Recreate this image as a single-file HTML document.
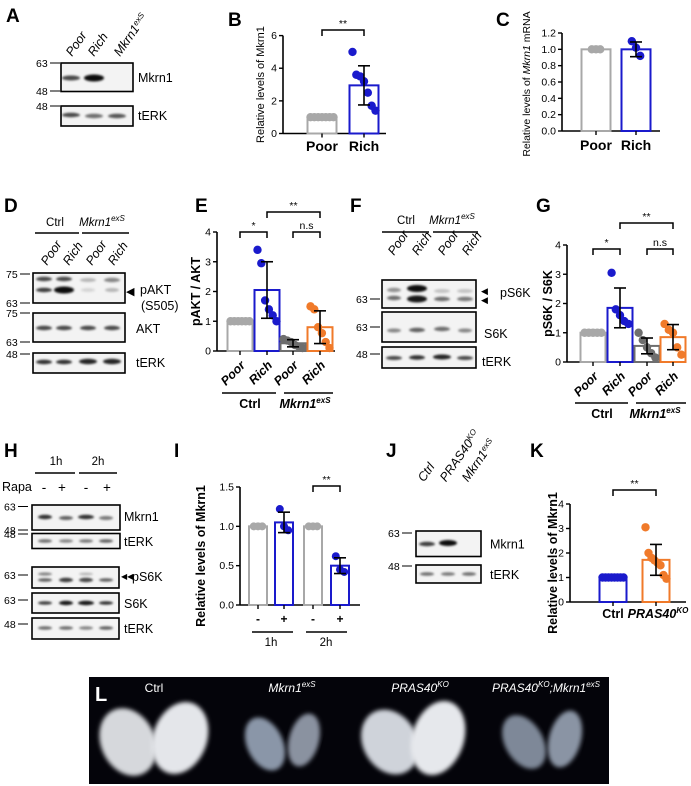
<!DOCTYPE html>
<html><head><meta charset="utf-8"><style>
body{margin:0;background:#fff}
svg{display:block;font-family:"Liberation Sans",sans-serif}
</style></head><body>
<svg id="fig" width="691" height="786" viewBox="0 0 691 786">
<defs><filter id="blur" x="-50%" y="-50%" width="200%" height="200%"><feGaussianBlur stdDeviation="1.1"/></filter>
<filter id="blur2"><feGaussianBlur stdDeviation="2"/></filter></defs>
<g id="root"></g>
</svg>
<script>
// ---------- chart data ----------
const bCats=["Poor","Rich"];
const bMeans=[1.0,2.95];
const bSD=[0,1.2];
const bPts=[[1,1,1,1,1,1,1],[5.0,3.6,3.5,3.2,2.5,1.7,1.4]];
const bTicks=[0,2,4,6];

const cCats=["Poor","Rich"];
const cMeans=[1.0,1.0];
const cSD=[0,0.09];
const cPts=[[1,1,1],[1.1,1.02,0.92]];
const cTicks=[0,0.2,0.4,0.6,0.8,1.0,1.2];

const eCats=["Poor","Rich","Poor","Rich"];
const eMeans=[1,2.05,0.26,0.8];
const eSD=[0,0.95,0.12,0.55];
const ePts=[[1,1,1,1,1,1],[3.4,2.95,1.7,1.4,1.2,1.0],[0.4,0.35,0.3,0.2,0.15,0.1],[1.5,1.4,0.8,0.6,0.3,0.1]];
const eTicks=[0,1,2,3,4];

const gCats=["Poor","Rich","Poor","Rich"];
const gMeans=[1,1.85,0.55,0.85];
const gSD=[0,0.68,0.27,0.43];
const gPts=[[1,1,1,1,1],[3.05,1.8,1.6,1.4,1.3],[1.0,0.75,0.5,0.3,0.15],[1.3,1.1,1.0,0.5,0.25]];
const gTicks=[0,1,2,3,4];

const iCats=["-","+","-","+"];
const iMeans=[1,1.05,1,0.5];
const iSD=[0,0.13,0,0.1];
const iPts=[[1,1,1],[1.22,1.0,0.95],[1,1,1],[0.62,0.45,0.42]];
const iTicks=[0,0.5,1.0,1.5];

const kCats=["Ctrl","PRAS40"];
const kMeans=[1,1.72];
const kSD=[0,0.63];
const kPts=[[1,1,1,1,1,1,1,1],[3.05,2.0,1.8,1.7,1.6,1.5,1.1,0.95]];
const kTicks=[0,1,2,3,4];

const NS="http://www.w3.org/2000/svg";
const root=document.getElementById('root');
function mk(tag,attrs,parent,name,text){
  const el=document.createElementNS(NS,tag);
  for(const k in attrs) el.setAttribute(k,attrs[k]);
  
  
  if(text!==undefined) el.textContent=text;
  (parent||root).appendChild(el);
  return el;
}
const GRAY="#a8a8a8",BLUE="#1a1acc",DGRAY="#6e6e6e",ORANGE="#f07a2a";

function chart(o){
  const g=mk('g',{},root,o.name);
  const y=v=>o.y0-(v/o.max)*(o.y0-o.yTop);
  const bw=o.bw;
  mk('line',{x1:o.ax,y1:o.yTop,x2:o.ax,y2:o.y0,stroke:'#000','stroke-width':1.6},g,'y-axis');
  mk('line',{x1:o.ax,y1:o.y0,x2:o.xEnd,y2:o.y0,stroke:'#000','stroke-width':1.6},g,'x-axis');
  o.ticks.forEach(t=>{
    mk('line',{x1:o.ax-4,y1:y(t),x2:o.ax,y2:y(t),stroke:'#000','stroke-width':1.4},g,'y-tick');
    mk('text',{x:o.ax-6,y:y(t)+3.5,'font-size':o.tfs||10.5,'text-anchor':'end'},g,'y-tick-label',o.fmt?t.toFixed(1):String(t));
  });
  o.means.forEach((m,i)=>{
    const cx=o.cx[i],col=o.colors[i];
    mk('rect',{x:cx-bw/2,y:y(m),width:bw,height:o.y0-y(m),fill:'#fff',stroke:col,'stroke-width':2},g,'bar-'+i);
    mk('line',{x1:cx,y1:o.y0,x2:cx,y2:o.y0+4,stroke:'#000','stroke-width':1.4},g,'x-tick');
    const pts=o.pts[i],n=pts.length;
    pts.forEach((p,j)=>{
      const sp=Math.min(4.2,(bw-6)/Math.max(n-1,1));
      const dx=(j-(n-1)/2)*sp;
      mk('circle',{cx:cx+dx,cy:y(p),r:o.r||4.2,fill:col},g,'point');
    });
    if(o.sd[i]>0){
      const hi=y(m+o.sd[i]),lo=y(m-o.sd[i]);
      mk('line',{x1:cx,y1:hi,x2:cx,y2:lo,stroke:'#000','stroke-width':1.6},g,'error-bar');
      mk('line',{x1:cx-6,y1:hi,x2:cx+6,y2:hi,stroke:'#000','stroke-width':1.6},g,'error-cap');
      mk('line',{x1:cx-6,y1:lo,x2:cx+6,y2:lo,stroke:'#000','stroke-width':1.6},g,'error-cap');
    }
  });
  (o.brackets||[]).forEach(b=>{
    const x1=o.cx[b[0]],x2=o.cx[b[1]],yy=b[2];
    mk('path',{d:`M${x1} ${yy+6}V${yy}H${x2}V${yy+6}`,fill:'none',stroke:'#000','stroke-width':1.5},g,'significance-bracket');
    mk('text',{x:(x1+x2)/2,y:yy-3,'font-size':10.5,'text-anchor':'middle'},g,'significance-label',b[3]);
  });
  const ty=(o.yTop+o.y0)/2+(o.titleShift||0);
  mk('text',{x:o.titleX,y:ty,'font-size':o.tsz||12,'font-weight':o.tbold?'bold':'normal','text-anchor':'middle',transform:`rotate(-90 ${o.titleX} ${ty})`},g,'y-axis-title').innerHTML=o.title;
  return {g,y};
}
function catLabels(g,cx,cats,yy,rot,extra){
  cats.forEach((c,i)=>{
    if(rot){
      mk('text',{x:cx[i]+6,y:yy,'font-size':12.5,'font-weight':'bold','font-style':'italic','text-anchor':'end',transform:`rotate(-45 ${cx[i]+6} ${yy})`},g,'x-category-label',c);
    } else {
      mk('text',{x:cx[i],y:yy,'font-size':extra||14,'font-weight':'bold','text-anchor':'middle'},g,'x-category-label',c);
    }
  });
}
function panelLabel(t,x,y,col){mk('text',{x:x,y:y,'font-size':19,'font-weight':'bold',fill:col||'#000'},root,'panel-label-'+t,t);}

// ---------- B ----------
let B=chart({name:'chart-b',ax:283,y0:133.5,yTop:35.6,max:6,xEnd:386,cx:[322,364],bw:29,colors:[GRAY,BLUE],means:bMeans,sd:bSD,pts:bPts,ticks:bTicks,title:'Relative levels of Mkrn1',titleX:264,tsz:11,brackets:[[0,1,30,'**']]});
catLabels(B.g,[322,364],bCats,151);
// ---------- C ----------
let C=chart({name:'chart-c',ax:562,y0:131,yTop:33,max:1.2,xEnd:660,cx:[596,636],bw:29,colors:[GRAY,BLUE],means:cMeans,sd:cSD,pts:cPts,ticks:cTicks,fmt:1,title:'Relative levels of <tspan font-style="italic">Mkrn1</tspan> mRNA',titleX:530,tsz:10.5,titleShift:2});
catLabels(C.g,[596,636],cCats,150);
// ---------- E ----------
let E=chart({name:'chart-e',ax:217,y0:351,yTop:232,max:4,xEnd:335,cx:[240,267,293,320],bw:25,colors:[GRAY,BLUE,DGRAY,ORANGE],means:eMeans,sd:eSD,pts:ePts,ticks:eTicks,title:'pAKT / AKT',titleX:200,tbold:1,tsz:12.5,brackets:[[0,1,232,'*'],[2,3,232,'n.s'],[1,3,212,'**']]});
catLabels(E.g,[240,267,293,320],eCats,366,true);
// ---------- G ----------
let G=chart({name:'chart-g',ax:567,y0:362,yTop:245,max:4,xEnd:686,cx:[593,620,647,673],bw:25,colors:[GRAY,BLUE,DGRAY,ORANGE],means:gMeans,sd:gSD,pts:gPts,ticks:gTicks,title:'pS6K / S6K',titleX:552,tbold:1,tsz:12.5,brackets:[[0,1,249,'*'],[2,3,249,'n.s'],[1,3,223,'**']]});
catLabels(G.g,[593,620,647,673],gCats,377,true);
// ---------- I ----------
let I=chart({name:'chart-i',ax:240,y0:605,yTop:487,max:1.5,xEnd:360,cx:[258,284,313,340],bw:18,r:4,colors:[GRAY,BLUE,GRAY,BLUE],means:iMeans,sd:iSD,pts:iPts,ticks:iTicks,fmt:1,title:'Relative levels of Mkrn1',titleX:205,tbold:1,tsz:12.5,titleShift:10,brackets:[[2,3,486,'**']]});
catLabels(I.g,[258,284,313,340],iCats,623,false,12);
// ---------- K ----------
let K=chart({name:'chart-k',ax:570,y0:602,yTop:504,max:4,xEnd:686,cx:[613,656],bw:27,colors:[BLUE,ORANGE],means:kMeans,sd:kSD,pts:kPts,ticks:kTicks,title:'Relative levels of Mkrn1',titleX:557,tbold:1,tsz:12.5,titleShift:10,brackets:[[0,1,490,'**']]});
mk('text',{x:613,y:618,'font-size':12.5,'font-weight':'bold','text-anchor':'middle'},K.g,'x-category-label','Ctrl');
mk('text',{x:658,y:618,'font-size':12.5,'font-weight':'bold','font-style':'italic','text-anchor':'middle'},K.g,'x-category-label').innerHTML='PRAS40<tspan dy="-5" font-size="8">KO</tspan>';

function groupLine(x1,x2,yy,label,lx,ly,italic,bold,sup){
  mk('line',{x1:x1,y1:yy,x2:x2,y2:yy,stroke:'#000','stroke-width':1.5},root,'group-line');
  const t=mk('text',{x:lx,y:ly,'font-size':bold?12.5:11.5,'font-weight':bold?'bold':'normal','font-style':italic?'italic':'normal','text-anchor':'middle'},root,'group-label');
  t.innerHTML=label+(sup?`<tspan dy="-5" font-size="8">${sup}</tspan>`:'');
}
groupLine(222,276,393,'Ctrl',250,408,false,true);
groupLine(284,333,393,'Mkrn1',305,408,true,true,'exS');
groupLine(575,628,403,'Ctrl',602,418,false,true);
groupLine(636,686,403,'Mkrn1',655,418,true,true,'exS');
groupLine(252,293,632,'1h',271,646,false,false);
groupLine(306,347,632,'2h',326,646,false,false);
groupLine(35,79,233,'Ctrl',55,226,false,false);
groupLine(82,129,233,'Mkrn1',102,226,true,false,'exS');
groupLine(382,429,232,'Ctrl',406,224,false,false);
groupLine(433,478,232,'Mkrn1',452,224,true,false,'exS');
groupLine(35,75,473,'1h',56,465,false,false);
groupLine(79,117,473,'2h',98,465,false,false);

// ---------- blots ----------
function blot(x,y,w,h,name,bands,label,lx,ly){
  const g=mk('g',{},root,name);
  mk('rect',{x:x,y:y,width:w,height:h,fill:'#f3f3f3',stroke:'#000','stroke-width':1.6},g,'blot-frame');
  bands.forEach(b=>{
    mk('ellipse',{cx:b[0],cy:b[1],rx:b[2],ry:b[3],fill:'#000','fill-opacity':b[4],filter:'url(#blur)'},g,'band');
  });
  if(label){const t=mk('text',{x:lx,y:ly,'font-size':12.5},g,'blot-label');t.innerHTML=label;}
}
function marker(t,x,y){
  mk('line',{x1:x+14,y1:y,x2:x+24,y2:y,stroke:'#000','stroke-width':1},root,'marker-tick');
  mk('text',{x:x,y:y+4,'font-size':10.5},root,'marker-label',t);
}
function lanes(xs,y,labels){
  labels.forEach((l,i)=>{
    const t=mk('text',{x:xs[i],y:y,'font-size':12.5,'font-style':'italic',transform:`rotate(-55 ${xs[i]} ${y})`},root,'lane-label');
    t.innerHTML=l;
  });
}
// A
lanes([72,94,120],57,['Poor','Rich','Mkrn1<tspan dy="-4" font-size="8">exS</tspan>']);
blot(61,63,72,28.5,'blot-a-mkrn1',[[71,78,9,2.5,0.7],[94,78,10,3.5,0.95]],'Mkrn1',138,82);
blot(61,106,72,20,'blot-a-terk',[[71,115,9,2.2,0.7],[94,116,9,2.2,0.55],[117,116,9,2.2,0.65]],'tERK',138,120);
marker('63',36,63);marker('48',36,91);marker('48',36,106);
// D
lanes([47,69,92,114],266,['Poor','Rich','Poor','Rich']);
blot(33,273,92,30,'blot-d-pakt',[[44,279,8,2.2,0.7],[64,279,8,2.2,0.7],[88,280,8,2,0.25],[112,280,8,2.2,0.45],[44,290,8,2.2,0.75],[64,290,10,3.5,0.95],[88,290,7,2,0.12],[112,290,7,2,0.25]],'pAKT',140,294);
mk('text',{x:126,y:295,'font-size':11},root,'arrowhead','◀');
mk('text',{x:141,y:310,'font-size':12.5},root,'blot-label','(S505)');
blot(33,313,92,29,'blot-d-akt',[[44,328,8,2.2,0.7],[64,328,8,2.2,0.7],[88,328,8,2.2,0.7],[112,328,8,2.2,0.7]],'AKT',136,333);
blot(33,353,92,20,'blot-d-terk',[[44,362,8,2.2,0.8],[64,362,8,2.2,0.8],[88,361.5,9,2.7,0.85],[112,361.5,9,2.7,0.85]],'tERK',136,367);
marker('75',6,274);marker('63',6,303);marker('75',6,313);marker('63',6,342);marker('48',6,354);
// F
lanes([394,418,444,468],256,['Poor','Rich','Poor','Rich']);
blot(382,280,94,28,'blot-f-ps6k',[[394,290,7,2.2,0.4],[417,288.5,10,3.5,0.95],[442,291,8,2,0.2],[465,291,8,2,0.2],[394,298,7,2.2,0.55],[417,299,10,3.5,0.9],[442,299,8,2.2,0.55],[465,299,8,2.2,0.5]],'pS6K',500,297);
mk('text',{x:481,y:294,'font-size':9},root,'arrowhead','◀');
mk('text',{x:481,y:303,'font-size':9},root,'arrowhead','◀');
blot(382,312,94,30,'blot-f-s6k',[[394,330.5,7,2,0.45],[417,330,8,2.2,0.6],[442,329,8,2.2,0.55],[465,330.5,7,2,0.45]],'S6K',484,338);
blot(382,347,94,21,'blot-f-terk',[[394,358,8,2,0.7],[417,357.5,8,2.2,0.8],[442,357,9,2.5,0.85],[465,358,8,2,0.7]],'tERK',482,366);
marker('63',356,299);marker('63',356,327);marker('48',356,354);
// H
mk('text',{x:2,y:491,'font-size':12.5},root,'rapa-label','Rapa');
['-','+','-','+'].forEach((s,i)=>mk('text',{x:[44,62,86,107][i],y:492,'font-size':13.5,'text-anchor':'middle'},root,'rapa-sign',s));
blot(32,505,88,25,'blot-h-mkrn1',[[45,517,7,2.2,0.8],[66,518,7,2,0.6],[86,517,8,2.2,0.8],[106,518,7,2,0.5]],'Mkrn1',124,521);
blot(32,533.5,88,15,'blot-h-terk',[[45,541,7,1.8,0.55],[66,541,7,1.8,0.45],[86,541,7,1.8,0.5],[106,541,7,1.8,0.6]],'tERK',124,546);
blot(32,567,87,21,'blot-h-ps6k',[[45,574,7,1.6,0.45],[45,580,7,1.8,0.6],[66,580,7,2.2,0.75],[86,580,7,2.2,0.7],[106,580,7,1.8,0.6],[86,574,7,1.4,0.25]],'pS6K',132,581);
mk('text',{x:121,y:579,'font-size':8},root,'arrowhead','◀◀');
blot(32,593,87,20,'blot-h-s6k',[[45,603,7,1.8,0.75],[66,603,7,2.2,0.9],[86,603,8,2.2,0.9],[106,603,7,1.8,0.8]],'S6K',124,608);
blot(32,618,87,21,'blot-h-terk2',[[45,628,7,1.8,0.55],[66,628,7,1.8,0.55],[86,628,7,1.8,0.45],[106,628,7,1.8,0.6]],'tERK',124,633);
marker('63',4,506.5);marker('48',4,530);marker('48',4,534);marker('63',4,575);marker('63',4,600);marker('48',4,624);
// J
lanes([424,446,468],482.5,['Ctrl','PRAS40<tspan dy="-4" font-size="8">KO</tspan>','Mkrn1<tspan dy="-4" font-size="8">exS</tspan>']);
blot(416,531,65,25.5,'blot-j-mkrn1',[[427,544,8,2.2,0.75],[448,543,9,3,0.95]],'Mkrn1',490,548.5);
blot(416,565,65,18,'blot-j-terk',[[427,574,7,1.8,0.55],[448,574,7,1.8,0.5],[469,574,7,1.8,0.55]],'tERK',490,579);
marker('63',388,533);marker('48',388,566);

// panel labels
panelLabel('A',6,22);panelLabel('B',228,26);panelLabel('C',496,26);
panelLabel('D',4,212);panelLabel('E',195,212);panelLabel('F',350,212);panelLabel('G',536,212);
panelLabel('H',4,457);panelLabel('I',174,457);panelLabel('J',386,457);panelLabel('K',530,457);

// ---------- L photo ----------
const L=mk('g',{},root,'panel-l-photo');
mk('rect',{x:89,y:677,width:520,height:107,fill:'#04040a'},L,'photo-background');
function organ(cx,cy,rx,ry,rot,col,name){
  mk('ellipse',{cx:cx,cy:cy,rx:rx,ry:ry,fill:col,transform:`rotate(${rot} ${cx} ${cy})`,filter:'url(#blur2)'},L,name);
}
organ(128,742,27,35,-25,'#d6d8dc','organ-ctrl-left');organ(180,738,27,37,20,'#e4e6ea','organ-ctrl-right');
organ(265,744,18,28,-25,'#8a96a8','organ-mkrn-left');organ(304,740,15,27,15,'#8a92a0','organ-mkrn-right');
organ(390,742,27,34,-30,'#cfd3da','organ-pras-left');organ(438,738,26,38,18,'#e6e8ec','organ-pras-right');
organ(524,742,19,29,-30,'#7e8898','organ-double-left');organ(565,739,16,29,15,'#8a94a4','organ-double-right');
mk('text',{x:95,y:701,'font-size':20,'font-weight':'bold',fill:'#fff'},L,'panel-label-L','L');
const lt=[['Ctrl',154,''],['Mkrn1<tspan dy="-5" font-size="8">exS</tspan>',292,'i'],['PRAS40<tspan dy="-5" font-size="8">KO</tspan>',420,'i'],['PRAS40<tspan dy="-5" font-size="8">KO</tspan><tspan dy="5">;Mkrn1</tspan><tspan dy="-5" font-size="8">exS</tspan>',546,'i']];
lt.forEach(a=>{const t=mk('text',{x:a[1],y:692,'font-size':12,fill:'#fff','text-anchor':'middle','font-style':a[2]?'italic':'normal'},L,'genotype-label');t.innerHTML=a[0];});
</script>
</body></html>
